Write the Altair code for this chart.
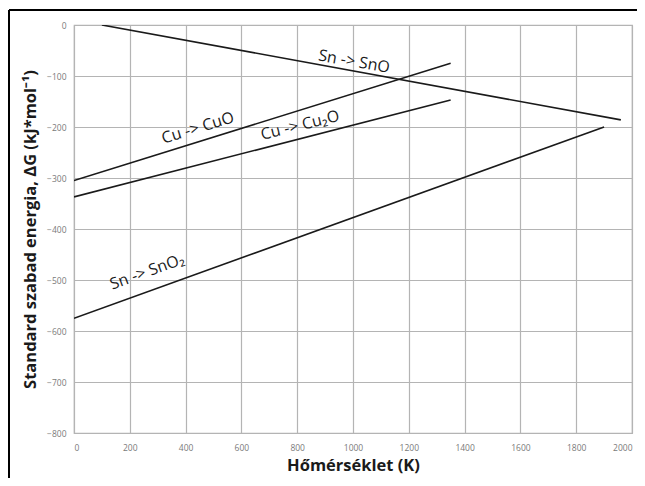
import altair as alt
import pandas as pd

# Reaction lines (endpoints)
series = ["Sn -> SnO", "Sn -> SnO", "Cu -> CuO", "Cu -> CuO",
          "Cu -> Cu2O", "Cu -> Cu2O", "Sn -> SnO2", "Sn -> SnO2"]
temps = [100, 1960, 0, 1350, 0, 1350, 0, 1900]
dG = [0, -186, -305, -75, -337, -147, -575, -200]

# Line labels
label_text = ["Sn -> SnO", "Cu -> CuO", "Cu -> Cu\u2082O", "Sn -> SnO\u2082"]
label_x = [1004, 444, 810, 262]
label_y = [-72, -202, -197, -484]
label_angle = [10, 343, 346, 340]

x_ticks = list(range(0, 2001, 200))
y_ticks = list(range(-800, 1, 100))

lines_df = pd.DataFrame({"series": series, "T": temps, "dG": dG})
labels_df = pd.DataFrame({"text": label_text, "T": label_x, "dG": label_y, "angle": label_angle})

xscale = alt.Scale(domain=[0, 2000], nice=False, zero=False)
yscale = alt.Scale(domain=[-800, 0], nice=False, zero=False)

lines = alt.Chart(lines_df).mark_line(color="#1a1a1a", strokeWidth=1.6, clip=True).encode(
    x=alt.X("T:Q", scale=xscale,
            axis=alt.Axis(values=x_ticks, format="d", title="Hőmérséklet (K)", grid=True,
                          ticks=False, domain=False, labelPadding=10,
                          titlePadding=6)),
    y=alt.Y("dG:Q", scale=yscale,
            axis=alt.Axis(values=y_ticks, format="d", title="Standard szabad energia, ΔG (kJ*mol⁻¹)",
                          grid=True, ticks=False, domain=False, labelPadding=8,
                          titlePadding=8)),
    detail="series:N",
)

label_layers = []
for i in range(len(label_text)):
    label_layers.append(
        alt.Chart(labels_df.iloc[[i]]).mark_text(
            font="Open Sans", fontSize=16, color="#1a1a1a", angle=label_angle[i],
            align="center", baseline="middle"
        ).encode(x=alt.X("T:Q", scale=xscale), y=alt.Y("dG:Q", scale=yscale), text="text:N")
    )

frame = alt.Chart(pd.DataFrame({"a": [0]})).mark_rule(color="#000000", strokeWidth=2).encode(
    x=alt.value(-65), x2=alt.value(700), y=alt.value(-15), y2=alt.value(-15)
)
frame_left = alt.Chart(pd.DataFrame({"a": [0]})).mark_rule(color="#000000", strokeWidth=2).encode(
    x=alt.value(-65), x2=alt.value(-65), y=alt.value(-15), y2=alt.value(500)
)

chart = alt.layer(lines, *label_layers, frame, frame_left).properties(
    width=558, height=408,
    autosize=alt.AutoSizeParams(type="none"),
    padding={"left": 66, "top": 17, "right": 5, "bottom": 45},
    background="white",
).configure_view(
    stroke="#b4b4b4", strokeWidth=1.2
).configure_axis(
    gridColor="#b4b4b4", gridWidth=1.2, gridOpacity=1,
    labelFont="Open Sans", labelFontSize=8.5, labelColor="#7a7a7a",
    titleFont="Open Sans", titleFontSize=16.5, titleFontWeight="bold", titleColor="#1a1a1a",
)

chart.save("out.html", embed_options={"renderer": "svg", "actions": False})
